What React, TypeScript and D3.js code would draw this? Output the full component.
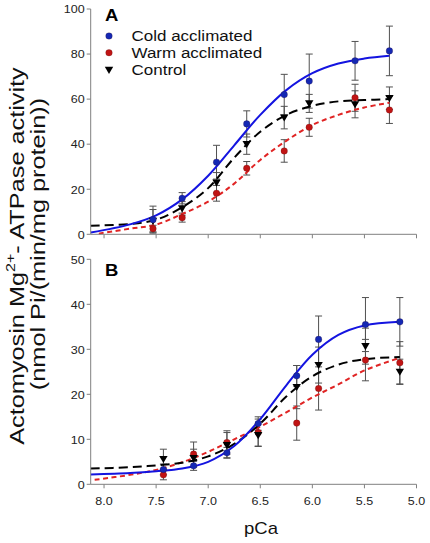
import React from "react";
import * as d3 from "d3";

// ---- data ----
const pcaTicks = [8.0, 7.5, 7.0, 6.5, 6.0, 5.5, 5.0];
const tickLabelsX = ["8.0", "7.5", "7.0", "6.5", "6.0", "5.5", "5.0"];
const yTicksA = [0, 20, 40, 60, 80, 100];
const yTicksB = [0, 10, 20, 30, 40, 50];

const legendLabels = ["Cold acclimated", "Warm acclimated", "Control"];

// Panel A points
const pcaA = [7.53, 7.25, 6.92, 6.63, 6.27, 6.03, 5.59, 5.26];
const coldA = [6.5, 16, 32, 49, 62, 68, 77, 81.4];
const coldErrA = [6, 2.5, 7.5, 5.8, 9, 12, 8.6, 11];
const warmA = [2.5, 7.4, 18.2, 29.3, 37, 47.5, 60.6, 55.2];
const warmErrA = [1.5, 2, 3.5, 3, 5, 4, 6, 6];
const ctrlA = [6, 11.5, 22.9, 40, 51.8, 58.1, 57.7, 60.4];
const ctrlErrA = [5, 3, 4.5, 4.5, 5, 4, 6, 5];

// Panel A fitted curves
const curvePcaA = [8.128, 7.75, 7.5, 7.25, 7.0, 6.75, 6.5, 6.25, 6.0, 5.75, 5.5, 5.26];
const coldFitA = [0.8, 4.4, 8.4, 15.5, 26, 39.5, 53, 64, 71.5, 75.8, 78, 79.2];
const ctrlFitA = [3.8, 4.6, 6.5, 12, 20.5, 34, 45.5, 53, 57, 59, 59.6, 60];
const curvePcaWarmA = [8.05, 7.75, 7.5, 7.25, 7.0, 6.75, 6.5, 6.25, 6.0, 5.75, 5.5, 5.26];
const warmFitA = [0.3, 2.5, 4.3, 9, 14.5, 22.5, 33, 41.5, 48.5, 53, 56.3, 58.4];

// Panel B points
const pcaB = [7.43, 7.14, 6.82, 6.52, 6.15, 5.94, 5.49, 5.16];
const coldB = [3.3, 4.1, 7.0, 13.5, 24.1, 32.2, 35.5, 36.1];
const coldErrB = [1.2, 1, 1.2, 1.5, 2.3, 5.2, 6, 5.4];
const warmB = [2.1, 6.7, 9.3, 11.5, 13.6, 21.3, 27.6, 27.0];
const warmErrB = [1.1, 2.7, 2.6, 3, 3.8, 4.8, 4.6, 4.7];
const ctrlB = [5.6, 5.8, 8.7, 10.9, 21.6, 26.5, 30.7, 25.0];
const ctrlErrB = [2.2, 2, 2.8, 2.5, 4.8, 4, 4, 2.8];

// Panel B fitted curves
const curvePcaB = [8.128, 7.75, 7.5, 7.25, 7.0, 6.75, 6.5, 6.25, 6.0, 5.75, 5.5, 5.16];
const coldFitB = [2.2, 2.5, 2.9, 3.5, 5, 8.5, 14.5, 22, 28.8, 33.2, 35.3, 36.1];
const ctrlFitB = [3.5, 3.8, 4.2, 4.8, 6.2, 9, 13.5, 19.5, 24, 26.6, 27.8, 28.3];
const curvePcaWarmB = [8.09, 7.75, 7.5, 7.25, 7.0, 6.75, 6.5, 6.25, 6.0, 5.75, 5.5, 5.16];
const warmFitB = [1.0, 2.1, 3.2, 4.9, 7.2, 10, 12.8, 16, 19.3, 22.2, 25.3, 28.1];

// ---- styles ----
const FONT = "'Liberation Sans', Arial, Helvetica, sans-serif";
const SQ = 0.85;
const BLUE_LINE = "#1414e0";
const BLUE_DOT = "#1428b4";
const RED_LINE = "#e02424";
const RED_DOT = "#c01414";
const AXIS = "#808080";
const ERR = "#505050";

const x = d3.scaleLinear().domain([8.128, 5.0]).range([90.7, 416.5]);

function Tri({ cx, cy, s = 4.2 }: { cx: number; cy: number; s?: number }) {
  const p = `M${cx - s},${cy - s * 0.75} L${cx + s},${cy - s * 0.75} L${cx},${cy + s * 0.95} Z`;
  return <path d={p} fill="#000" />;
}

function Dot({ cx, cy, fill }: { cx: number; cy: number; fill: string }) {
  return <circle cx={cx} cy={cy} r={3.3} fill={fill} stroke="#3a0a0a" strokeOpacity={0.35} strokeWidth={0.6} />;
}

function HText(props: { x: number; y: number; size: number; anchor?: string; weight?: string; children: any; fill?: string }) {
  return (
    <text
      transform={`translate(${props.x},${props.y}) scale(1,${SQ})`}
      fontFamily={FONT}
      fontSize={props.size}
      fontWeight={props.weight || "normal"}
      textAnchor={props.anchor || "start"}
      fill={props.fill || "#111"}
    >
      {props.children}
    </text>
  );
}

function Panel(props: {
  y0: number; y1: number; ymax: number; yTicks: number[]; letter: string; letterY: number;
  pca: number[]; cold: number[]; coldErr: number[]; warm: number[]; warmErr: number[]; ctrl: number[]; ctrlErr: number[];
  cPca: number[]; cWarmPca: number[]; coldFit: number[]; warmFit: number[]; ctrlFit: number[]; xLabels: boolean;
}) {
  const y = d3.scaleLinear().domain([0, props.ymax]).range([props.y0, props.y1]);
  const line = d3.line<[number, number]>().x((d) => x(d[0])).y((d) => y(d[1])).curve(d3.curveCatmullRom.alpha(0.5));
  const zip = (a: number[], b: number[]) => a.map((v, i) => [v, b[i]] as [number, number]);
  const errBars = (vals: number[], errs: number[], key: string) =>
    props.pca.map((p, i) => {
      const cx = x(p);
      const t = y(vals[i] + errs[i]);
      const b = y(vals[i] - errs[i]);
      return (
        <g key={key + i} stroke={ERR} strokeWidth={1}>
          <line x1={cx} x2={cx} y1={t} y2={b} />
          <line x1={cx - 3.5} x2={cx + 3.5} y1={t} y2={t} />
          <line x1={cx - 3.5} x2={cx + 3.5} y1={b} y2={b} />
        </g>
      );
    });
  const x0 = x.range()[0];
  return (
    <g>
      {errBars(props.cold, props.coldErr, "ce")}
      {errBars(props.warm, props.warmErr, "we")}
      {errBars(props.ctrl, props.ctrlErr, "ke")}
      <path d={line(zip(props.cWarmPca, props.warmFit)) || ""} fill="none" stroke={RED_LINE} strokeWidth={2} strokeDasharray="5,3.5" />
      <path d={line(zip(props.cPca, props.ctrlFit)) || ""} fill="none" stroke="#000" strokeWidth={2} strokeDasharray="9,5" />
      <path d={line(zip(props.cPca, props.coldFit)) || ""} fill="none" stroke={BLUE_LINE} strokeWidth={2} />
      {props.pca.map((p, i) => <Dot key={"w" + i} cx={x(p)} cy={y(props.warm[i])} fill={RED_DOT} />)}
      {props.pca.map((p, i) => <Tri key={"k" + i} cx={x(p)} cy={y(props.ctrl[i])} />)}
      {props.pca.map((p, i) => <Dot key={"c" + i} cx={x(p)} cy={y(props.cold[i])} fill={BLUE_DOT} />)}
      {/* axes */}
      <line x1={x0} x2={x0} y1={y(0)} y2={y(props.ymax)} stroke={AXIS} strokeWidth={1} />
      <line x1={x0} x2={x(5.0)} y1={y(0)} y2={y(0)} stroke={AXIS} strokeWidth={1} />
      {props.yTicks.map((t) => (
        <g key={"yt" + t}>
          <line x1={x0 - 4} x2={x0} y1={y(t)} y2={y(t)} stroke={AXIS} />
          <HText x={x0 - 6} y={y(t) + 4.3} size={12.5} anchor="end" fill="#222">{String(t)}</HText>
        </g>
      ))}
      {pcaTicks.map((t, i) => (
        <g key={"xt" + t}>
          <line x1={x(t)} x2={x(t)} y1={y(0)} y2={y(0) + 4} stroke={AXIS} />
          {props.xLabels && <HText x={x(t)} y={y(0) + 21} size={12.5} anchor="middle" fill="#222">{tickLabelsX[i]}</HText>}
        </g>
      ))}
      <HText x={105} y={props.letterY} size={18.5} weight="bold" fill="#000">{props.letter}</HText>
    </g>
  );
}

export default function App() {
  return (
    <svg width={430} height={543} style={{ position: "absolute", left: 0, top: 0, background: "#fff" }}>
      <rect width={430} height={543} fill="#fff" />
      <Panel y0={234.3} y1={9} ymax={100} yTicks={yTicksA} letter="A" letterY={20.5}
        pca={pcaA} cold={coldA} coldErr={coldErrA} warm={warmA} warmErr={warmErrA} ctrl={ctrlA} ctrlErr={ctrlErrA}
        cPca={curvePcaA} cWarmPca={curvePcaWarmA} coldFit={coldFitA} warmFit={warmFitA} ctrlFit={ctrlFitA} xLabels={false} />
      <Panel y0={484.3} y1={259.3} ymax={50} yTicks={yTicksB} letter="B" letterY={275.5}
        pca={pcaB} cold={coldB} coldErr={coldErrB} warm={warmB} warmErr={warmErrB} ctrl={ctrlB} ctrlErr={ctrlErrB}
        cPca={curvePcaB} cWarmPca={curvePcaWarmB} coldFit={coldFitB} warmFit={warmFitB} ctrlFit={ctrlFitB} xLabels={true} />
      {/* legend */}
      <Dot cx={109} cy={36} fill={BLUE_DOT} />
      <Dot cx={109} cy={52.7} fill={RED_DOT} />
      <Tri cx={109} cy={70} />
      <HText x={131.5} y={40.8} size={17}>{legendLabels[0]}</HText>
      <HText x={131.5} y={58.3} size={17}>{legendLabels[1]}</HText>
      <HText x={131.5} y={75.3} size={17}>{legendLabels[2]}</HText>
      {/* axis titles */}
      <HText x={261} y={533.5} size={18.5} anchor="middle">pCa</HText>
      <text transform={`translate(23.5,256) rotate(-90) scale(1,0.82)`} fontFamily={FONT} fontSize={25.3} textAnchor="middle" fill="#111">
        Actomyosin Mg<tspan fontSize={16} dy={-10}>2+</tspan><tspan dy={10}>- ATPase activity</tspan>
      </text>
      <text transform={`translate(45,244) rotate(-90) scale(1,0.82)`} fontFamily={FONT} fontSize={25.3} textAnchor="middle" fill="#111">
        (nmol Pi/(min/mg protein))
      </text>
    </svg>
  );
}
